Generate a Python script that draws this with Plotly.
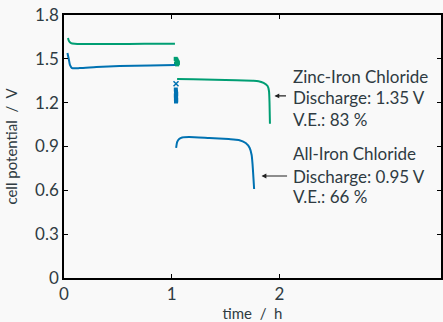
import plotly.graph_objects as go

# ---- data ----
zn_charge_t = [0.037, 0.046, 0.065, 0.10, 0.30, 0.60, 0.90, 1.03]
zn_charge_v = [1.643, 1.622, 1.608, 1.604, 1.601, 1.602, 1.603, 1.604]
zn_mark_t = [1.037, 1.042, 1.047, 1.052, 1.057, 1.040, 1.050, 1.055]
zn_mark_v = [1.500, 1.495, 1.488, 1.480, 1.470, 1.465, 1.462, 1.475]
zn_dis_t = [1.05, 1.20, 1.40, 1.60, 1.75, 1.806, 1.853, 1.89, 1.903, 1.908, 1.912]
zn_dis_v = [1.362, 1.360, 1.357, 1.354, 1.350, 1.347, 1.335, 1.314, 1.280, 1.200, 1.055]

fe_charge_t = [0.032, 0.046, 0.055, 0.074, 0.147, 0.30, 0.516, 0.80, 1.032]
fe_charge_v = [1.540, 1.492, 1.458, 1.437, 1.437, 1.444, 1.451, 1.455, 1.458]
fe_mark_t = [1.040, 1.038, 1.040, 1.042, 1.038, 1.041, 1.039, 1.042, 1.040]
fe_mark_v = [1.330, 1.290, 1.275, 1.262, 1.250, 1.238, 1.226, 1.215, 1.208]
fe_dis_t = [1.041, 1.051, 1.069, 1.097, 1.161, 1.35, 1.53, 1.622, 1.687, 1.724, 1.742, 1.751, 1.765]
fe_dis_v = [0.890, 0.931, 0.951, 0.962, 0.965, 0.958, 0.951, 0.945, 0.924, 0.890, 0.842, 0.773, 0.609]

zn_label = ["Zinc-Iron Chloride", "Discharge: 1.35 V", "V.E.: 83 %"]
fe_label = ["All-Iron Chloride", "Discharge: 0.95 V", "V.E.: 66 %"]

y_ticks = [0, 0.3, 0.6, 0.9, 1.2, 1.5, 1.8]
y_ticktext = ["0", "0.3", "0.6", "0.9", "1.2", "1.5", "1.8"]
x_ticks = [0, 1, 2]

GREEN = "#009e73"
BLUE = "#0072b2"
TXT = "#2f3b42"
FONT = "Lato"

fig = go.Figure()
fig.add_trace(go.Scatter(x=zn_charge_t, y=zn_charge_v, mode="lines",
                         line=dict(color=GREEN, width=2, shape="spline", smoothing=0.6)))
fig.add_trace(go.Scatter(x=zn_mark_t, y=zn_mark_v, mode="markers",
                         marker=dict(color=GREEN, symbol="square", size=4)))
fig.add_trace(go.Scatter(x=zn_dis_t, y=zn_dis_v, mode="lines",
                         line=dict(color=GREEN, width=2, shape="spline", smoothing=0.6)))
fig.add_trace(go.Scatter(x=fe_charge_t, y=fe_charge_v, mode="lines",
                         line=dict(color=BLUE, width=2, shape="spline", smoothing=0.6)))
fig.add_trace(go.Scatter(x=fe_mark_t[:1], y=fe_mark_v[:1], mode="markers",
                         marker=dict(color=BLUE, symbol="x-thin-open", size=5,
                                     line=dict(color=BLUE, width=1.5))))
fig.add_trace(go.Scatter(x=fe_mark_t[1:], y=fe_mark_v[1:], mode="markers",
                         marker=dict(color=BLUE, symbol="square", size=4)))
fig.add_trace(go.Scatter(x=fe_dis_t, y=fe_dis_v, mode="lines",
                         line=dict(color=BLUE, width=2, shape="spline", smoothing=0.6)))

# text labels
zn_y = [1.381, 1.232, 1.085]
fe_y = [0.849, 0.698, 0.555]
for txt, yv in zip(zn_label, zn_y):
    fig.add_annotation(x=2.11, y=yv, xref="x", yref="y", text=txt, showarrow=False,
                       xanchor="left", yanchor="middle",
                       font=dict(family=FONT, size=17, color=TXT))
for txt, yv in zip(fe_label, fe_y):
    fig.add_annotation(x=2.11, y=yv, xref="x", yref="y", text=txt, showarrow=False,
                       xanchor="left", yanchor="middle",
                       font=dict(family=FONT, size=17, color=TXT))
# arrows
fig.add_annotation(x=1.954, y=1.246, ax=13, ay=0, text="", showarrow=True,
                   arrowhead=2, arrowsize=0.8, arrowwidth=1.2, arrowcolor="#222")
fig.add_annotation(x=1.834, y=0.698, ax=27, ay=0, text="", showarrow=True,
                   arrowhead=2, arrowsize=0.8, arrowwidth=1.2, arrowcolor="#222")

axis_common = dict(showline=True, linecolor="black", linewidth=1.5, mirror="ticks",
                   ticks="inside", ticklen=4, tickwidth=1, tickcolor="black",
                   showgrid=False, zeroline=False,
                   tickfont=dict(family=FONT, size=17, color=TXT))
fig.update_xaxes(range=[0, 3.5], tickvals=x_ticks, ticktext=["0", "1", "2"],
                 title=dict(text="time  /  h", font=dict(family=FONT, size=15, color=TXT), standoff=2),
                 **axis_common)
fig.update_yaxes(range=[0, 1.8], tickvals=y_ticks, ticktext=y_ticktext,
                 title=dict(text="cell potential  /  V", font=dict(family=FONT, size=15, color=TXT), standoff=14),
                 **axis_common)

fig.update_layout(width=443, height=322, showlegend=False,
                  margin=dict(l=64, r=0, t=15, b=44),
                  paper_bgcolor="#f9f9f9", plot_bgcolor="#f9f9f9")
fig.write_html("out.html")
